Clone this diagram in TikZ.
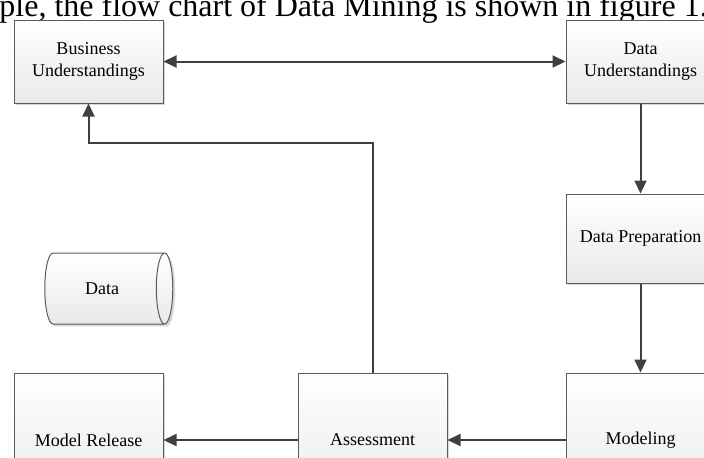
\documentclass[tikz,border=0pt]{standalone}
\usepackage{fontspec}
\setmainfont{Liberation Serif}
\usepackage{tikz}
\usetikzlibrary{arrows.meta,shapes.geometric,shadows}
\definecolor{line700} {HTML}{5A5A5A}
\definecolor{arrow800}{HTML}{404040}
\definecolor{fill100} {HTML}{E9E9E9}
\tikzset{
  box/.style   ={draw=line700, line width=0.5pt, top color=white,
                 bottom color=fill100, align=center, inner sep=3pt,
                 minimum width=74.5pt, font=\fontsize{9}{10.85}\selectfont,
                 drop shadow={shadow xshift=1.2pt, shadow yshift=-1.2pt,
                 opacity=0.35, fill=black!45}},
  store/.style ={cylinder, draw=line700, line width=0.5pt, top color=white,
                 bottom color=fill100, aspect=0.65, minimum width=35.5pt,
                 minimum height=64pt, font=\fontsize{9}{10.85}\selectfont,
                 drop shadow={shadow xshift=1.2pt, shadow yshift=-1.2pt,
                 opacity=0.35, fill=black!45}},
  ar/.style    ={-{Triangle[length=6.5pt,width=6pt]}, draw=arrow800,
                 line width=1pt},
  capt/.style  ={font=\fontsize{16}{19}\selectfont, inner sep=0pt,
                 anchor=base west}
}

\begin{document}
\begin{tikzpicture}[x=0.5pt,y=-0.5pt]
\useasboundingbox (0,0) rectangle (704,457);
\clip (0,0) rectangle (704,457);

\node[capt] (capline) at (-1,16)
  {ple, the flow chart of Data Mining is shown in figure 1.};

\node[box, minimum height=41.5pt] (bus) at (88.5,61.5)
  {Business\\ Understandings};
\node[box, minimum height=41.5pt] (dund) at (640.5,61.5)
  {Data\\ Understandings};
\node[box, minimum height=44.5pt] (prep) at (640.5,238.5)
  {Data Preparation};
\node[box, minimum height=67pt] (model) at (640.5,440)
  {Modeling};
\node[box, minimum height=67pt] (assess) at (372.5,440)
  {Assessment};
\node[box, minimum height=67pt] (release) at (88.5,440)
  {Model Release};
\node[store] (data) at (102,288.5) {Data};

\draw[ar, {Triangle[length=6.5pt,width=6pt]}-{Triangle[length=6.5pt,width=6pt]}]
  (bus) -- (dund);
\draw[ar] (dund) -- (prep);
\draw[ar] (prep) -- (model);
\draw[ar] (model) -- (assess);
\draw[ar] (assess) -- (release);
\draw[ar] (assess.north) -- ++(0,-230) -| (bus.south);
\end{tikzpicture}
\end{document}
